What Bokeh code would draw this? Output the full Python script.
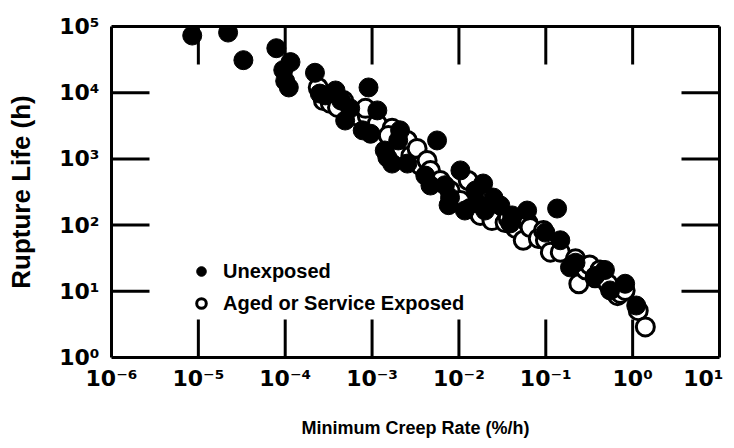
import math
from bokeh.plotting import figure
from bokeh.models import (LogAxis, FixedTicker, CustomJSTickFormatter, Legend,
                          LegendItem, Range1d)
from bokeh.embed import file_html
from bokeh.resources import INLINE

# ---- data ----
unexposed_rate = [8.5e-6, 2.2e-5, 3.3e-5, 7.9e-5, 1.15e-4, 9.5e-5, 1.0e-4, 1.1e-4,
                  2.2e-4, 2.5e-4, 3.8e-4, 2.9e-4, 4.4e-4, 5.6e-4, 4.9e-4, 9.1e-4,
                  1.15e-3, 7.8e-4, 9.6e-4, 1.5e-3, 1.4e-3, 2.1e-3, 2.0e-3, 1.7e-3,
                  2.55e-3, 5.6e-3, 4.1e-3, 4.7e-3, 6.9e-3, 1.04e-2, 7.9e-3, 7.6e-3,
                  1.17e-2, 1.63e-2, 1.9e-2, 1.55e-2, 2.5e-2, 2.0e-2, 3.0e-2, 3.9e-2,
                  4.1e-2, 6.1e-2, 9.9e-2, 0.135, 0.147, 0.19, 0.22, 0.37, 0.48, 0.55,
                  0.82, 1.1]
unexposed_life = [7.3e4, 8.1e4, 3.1e4, 4.7e4, 2.9e4, 2.2e4, 1.5e4, 1.2e4,
                  2.0e4, 9.7e3, 1.08e4, 9.1e3, 7.6e3, 5.8e3, 3.8e3, 1.2e4,
                  5.4e3, 2.7e3, 2.4e3, 1.05e3, 1.34e3, 2.7e3, 1.9e3, 850,
                  850, 1.9e3, 560, 396, 400, 670, 260, 200,
                  166, 212, 425, 333, 260, 166, 198, 106,
                  140, 166, 77, 178, 59, 23, 27, 17, 21, 10.3,
                  13, 6.1]

aged_rate = [2.4e-4, 2.75e-4, 3.3e-4, 4.0e-4, 4.7e-4, 6.4e-4, 8.8e-4, 8.4e-4,
             1.15e-3, 1.7e-3, 1.54e-3, 2.0e-3, 2.55e-3, 2.8e-3, 3.3e-3, 3.6e-3,
             4.3e-3, 4.7e-3, 6.1e-3, 7.9e-3, 1.04e-2, 1.28e-2, 1.35e-2, 1.76e-2,
             2.2e-2, 2.3e-2, 2.4e-2, 3.4e-2, 3.7e-2, 4.5e-2, 5.5e-2, 6.3e-2,
             6.6e-2, 8.2e-2, 9.4e-2, 9.9e-2, 0.113, 0.147, 0.22, 0.24,
             0.29, 0.32, 0.37, 0.42, 0.52, 0.67, 0.72, 0.82, 1.16, 1.4]
aged_life = [1.2e4, 7.6e3, 6.9e3, 6.0e3, 7.6e3, 4.5e3, 4.5e3, 5.8e3,
             3.4e3, 2.9e3, 2.25e3, 1.34e3, 1.9e3, 1.12e3, 1.44e3, 795,
             946, 668, 472, 333, 235, 472, 178, 140,
             261, 185, 117, 109, 126, 89, 59, 106,
             92, 63, 83, 59, 39, 39, 31, 13,
             21, 25, 16, 21, 13, 8.6, 9.3, 10.3, 5.1, 2.9]

x_ticks = [1e-6, 1e-5, 1e-4, 1e-3, 1e-2, 1e-1, 1e0, 1e1]
# last label padded on its right so that it stays inside the page, as in the reference
x_tick_labels = ["10⁻⁶", "10⁻⁵", "10⁻⁴", "10⁻³", "10⁻²", "10⁻¹", "10⁰",
                 "10¹\u2002"]
y_ticks = [1e0, 1e1, 1e2, 1e3, 1e4, 1e5]
y_tick_labels = ["10⁰", "10¹", "10²", "10³", "10⁴", "10⁵"]

x_title = "Minimum Creep Rate (%/h)"
y_title = "Rupture Life (h)"
series_names = ["Unexposed", "Aged or Service Exposed"]

FONT = "Liberation Sans"
TICK_FONT = "DejaVu Sans"
TICK_LEN = 38

fmt_code = """
let best = 0, bd = 1e9;
for (let i = 0; i < tvals.length; i++) {
  const d = Math.abs(Math.log10(tick) - Math.log10(tvals[i]));
  if (d < bd) { bd = d; best = i; }
}
return tlabels[best];
"""

x_range = Range1d(x_ticks[0], x_ticks[-1])
y_range = Range1d(y_ticks[0], y_ticks[-1])

p = figure(frame_width=608, frame_height=331,
           min_border_left=111, min_border_right=15, min_border_top=26,
           min_border_bottom=91,
           x_axis_type="log", y_axis_type="log",
           x_range=x_range, y_range=y_range,
           output_backend="svg", toolbar_location=None)
p.outline_line_color = None
p.xgrid.visible = False
p.ygrid.visible = False
p.background_fill_color = "white"
p.border_fill_color = "white"


def style_axis(ax, tick_vals, show_labels, labels=None):
    ax.ticker = FixedTicker(ticks=tick_vals, minor_ticks=[])
    ax.axis_line_width = 3
    ax.axis_line_color = "black"
    ax.major_tick_line_color = None
    ax.major_tick_in = 0
    ax.major_tick_out = 0
    ax.minor_tick_in = 0
    ax.minor_tick_out = 0
    if show_labels:
        ax.formatter = CustomJSTickFormatter(args=dict(tvals=tick_vals, tlabels=labels),
                                             code=fmt_code)
        ax.major_label_text_font = TICK_FONT
        ax.major_label_text_font_style = "bold"
        ax.major_label_text_font_size = "22px"
        ax.major_label_text_color = "black"
    else:
        ax.formatter = CustomJSTickFormatter(code="return '';")
        ax.major_label_text_font_size = "1px"
        ax.major_label_standoff = 0


xax = p.xaxis[0]
yax = p.yaxis[0]
style_axis(xax, x_ticks, True, x_tick_labels)
style_axis(yax, y_ticks, True, y_tick_labels)
xax.major_label_standoff = 8
yax.major_label_standoff = 12

xax.axis_label = x_title
yax.axis_label = y_title
for ax in (xax, yax):
    ax.axis_label_text_font = FONT
    ax.axis_label_text_font_style = "bold"
    ax.axis_label_text_color = "black"
xax.axis_label_text_font_size = "18px"
yax.axis_label_text_font_size = "26px"
xax.axis_label_standoff = 24
yax.axis_label_standoff = 20

top_ax = LogAxis()
style_axis(top_ax, x_ticks, False)
p.add_layout(top_ax, "above")
right_ax = LogAxis()
style_axis(right_ax, y_ticks, False)
p.add_layout(right_ax, "right")

# inward tick marks on all four sides (drawn at the tick values)
inner_x = x_ticks[1:-1]
inner_y = y_ticks[1:-1]
tick_style = dict(length=TICK_LEN, length_units="screen", line_width=3,
                  line_color="black", line_cap="butt")
p.ray(x=inner_x, y=[y_range.start] * len(inner_x), angle=math.pi / 2, **tick_style)
p.ray(x=inner_x, y=[y_range.end] * len(inner_x), angle=-math.pi / 2, **tick_style)
p.ray(x=[x_range.start] * len(inner_y), y=inner_y, angle=0, **tick_style)
p.ray(x=[x_range.end] * len(inner_y), y=inner_y, angle=math.pi, **tick_style)

r2 = p.scatter(aged_rate, aged_life, marker="circle", size=18,
               fill_color="white", line_color="black", line_width=3)
r1 = p.scatter(unexposed_rate, unexposed_life, marker="circle", size=19,
               fill_color="black", line_color="black", line_width=1)

legend = Legend(items=[LegendItem(label=series_names[0], renderers=[r1]),
                       LegendItem(label=series_names[1], renderers=[r2])],
                location=(78, 42), padding=0, margin=0, spacing=8,
                glyph_height=24, glyph_width=24, label_height=24,
                label_standoff=10, background_fill_alpha=0,
                border_line_color=None)
legend.label_text_font = FONT
legend.label_text_font_style = "bold"
legend.label_text_font_size = "20px"
legend.label_text_color = "black"
p.add_layout(legend)

open("out.html", "w").write(file_html(p, INLINE))
